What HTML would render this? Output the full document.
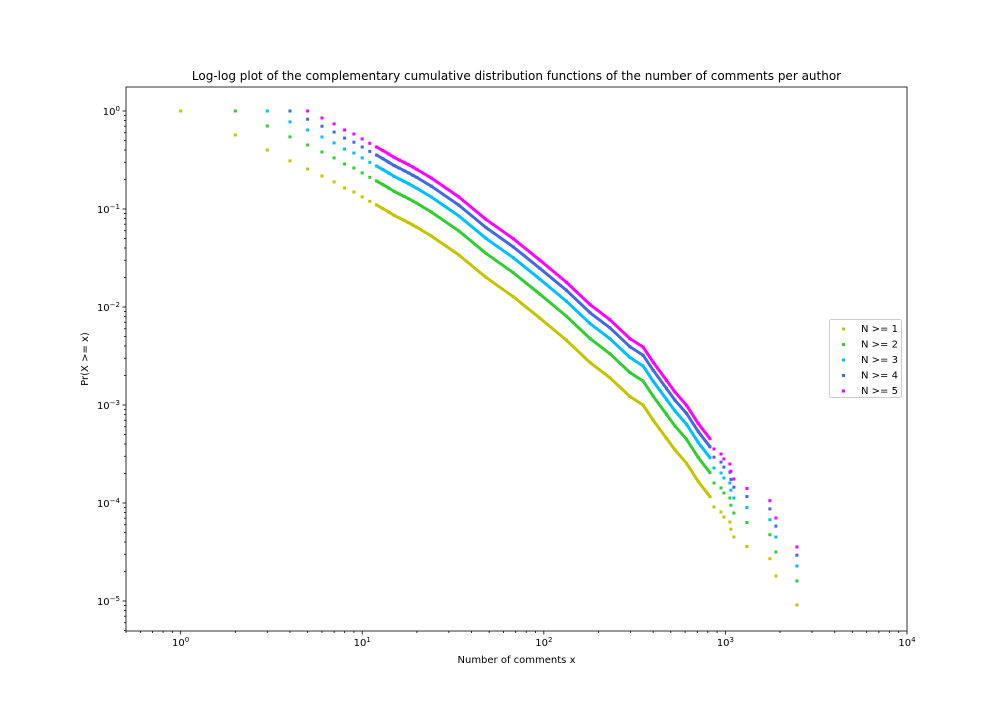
<!DOCTYPE html>
<html><head><meta charset="utf-8"><style>
body{margin:0;background:#fff}
svg{display:block;font-family:"DejaVu Sans","Liberation Sans",sans-serif}
</style></head><body>
<svg id="chart" width="1008" height="720" viewBox="0 0 1008 720" xmlns="http://www.w3.org/2000/svg">
<rect width="1008" height="720" fill="#fff"/>
<text x="516.5" y="80" font-size="12" text-anchor="middle">Log-log plot of the complementary cumulative distribution functions of the number of comments per author</text>
<g id="series"></g>
<g id="axes"></g>
<rect x="126" y="87" width="781" height="544" fill="none" stroke="#000" stroke-width="0.8"/>
<text x="516.5" y="663" font-size="10" text-anchor="middle">Number of comments x</text>
<text transform="translate(88,359) rotate(-90)" font-size="10" text-anchor="middle">Pr(X &gt;= x)</text>
<g id="legend"></g>
</svg>
<script>
// Base CCDF (N >= 1)
const baseX = [1,2,3,4,5,6,7,8,9,10,11,12,13,14,15,16,17,18,19,20,24,34,48,68,95,133,180,231,298,352,400,474,527,611,708,822,865,945,981,1059,1072,1114,1313,1758,1897,2477];
const baseY = [1,0.569,0.40,0.31,0.256,0.217,0.189,0.164,0.149,0.133,0.120,0.110,0.101,0.093,0.086,0.081,0.0765,0.0725,0.0685,0.065,0.053,0.034,0.0201,0.0127,0.0077,0.0046,0.0027,0.0019,0.00122,0.001,0.0007,0.000457,0.000348,0.000254,0.000166,0.000116,9.1e-5,8.1e-5,7.2e-5,6.4e-5,5.4e-5,4.5e-5,3.6e-5,2.7e-5,1.8e-5,9.1e-6];
const minN = [1,2,3,4,5];
const seriesNames = ["N >= 1","N >= 2","N >= 3","N >= 4","N >= 5"];
const seriesColors = ["#c4c400","#32cd32","#00bfff","#4169e1","#ff00ff"];
const xTickExp = [0,1,2,3,4];
const yTickExp = [0,-1,-2,-3,-4,-5];

const NS="http://www.w3.org/2000/svg";
const L=126,R=907,T=87,B=631;
const xMinL=Math.log10(0.5), xMaxL=4, yMinL=-5.306, yMaxL=0.245;
function xs(v){return L+(Math.log10(v)-xMinL)/(xMaxL-xMinL)*(R-L);}
function ys(v){return B-(Math.log10(v)-yMinL)/(yMaxL-yMinL)*(B-T);}
function el(t,a){const e=document.createElementNS(NS,t);for(const k in a)e.setAttribute(k,a[k]);return e;}

const sg=document.getElementById('series');
minN.forEach((n,si)=>{
  const g=el('g',{});
  
  
  const norm=baseY[baseX.indexOf(n)];
  const pts=[];
  baseX.forEach((x,i)=>{ if(x>=n) pts.push([x,baseY[i]/norm]); });
  const dense=pts.filter(p=>p[0]>=12&&p[0]<=822);
  const line=el('polyline',{points:dense.map(p=>xs(p[0]).toFixed(1)+','+ys(p[1]).toFixed(1)).join(' '),fill:'none',stroke:seriesColors[si],'stroke-width':3,'stroke-linejoin':'round','stroke-linecap':'round'});
  
  
  g.appendChild(line);
  pts.forEach(p=>{
    const m=el('rect',{x:(xs(p[0])-1.5).toFixed(1),y:(ys(p[1])-1.5).toFixed(1),width:3,height:3,fill:seriesColors[si]});
    
    
    g.appendChild(m);
  });
  sg.appendChild(g);
});

const ax=document.getElementById('axes');
function lbl(x,y,exp,anchor){
  const t=el('text',{x:x,y:y,'font-size':10,'text-anchor':anchor});
  
  
  t.appendChild(document.createTextNode('10'));
  const s=el('tspan',{'font-size':7,dy:-4});
  s.textContent=exp<0?'\u2212'+(-exp):String(exp);
  t.appendChild(s);
  ax.appendChild(t);
}
for(let e=-1;e<=4;e++){
  for(let m=1;m<=9;m++){
    const v=m*Math.pow(10,e);
    if(v<0.5||v>10000)continue;
    const px=xs(v),len=m===1?3.5:2;
    const tk=el('line',{x1:px,x2:px,y1:B,y2:B+len,stroke:'#000','stroke-width':0.8});
    
    
    ax.appendChild(tk);
  }
}
xTickExp.forEach(e=>lbl(xs(Math.pow(10,e)),646,e,'middle'));
for(let e=-6;e<=0;e++){
  for(let m=1;m<=9;m++){
    const v=m*Math.pow(10,e);
    const lv=Math.log10(v);
    if(lv<yMinL||lv>yMaxL)continue;
    const py=ys(v),len=m===1?3.5:2;
    const tk=el('line',{x1:L-len,x2:L,y1:py,y2:py,stroke:'#000','stroke-width':0.8});
    
    
    ax.appendChild(tk);
  }
}
yTickExp.forEach(e=>lbl(L-6,ys(Math.pow(10,e))+4,e,'end'));

const lg=document.getElementById('legend');
const box=el('rect',{x:829.5,y:319.5,width:72,height:78,rx:2,fill:'#fff',stroke:'#ccc','stroke-width':1});


lg.appendChild(box);
seriesNames.forEach((nm,i)=>{
  const y=328+i*15.5;
  const g=el('g',{});
  
  
  g.appendChild(el('rect',{x:842,y:y-0.5,width:3,height:3,fill:seriesColors[i]}));
  const t=el('text',{x:861,y:y+4,'font-size':10});
  t.textContent=nm;
  g.appendChild(t);
  lg.appendChild(g);
});
</script>
</body></html>
